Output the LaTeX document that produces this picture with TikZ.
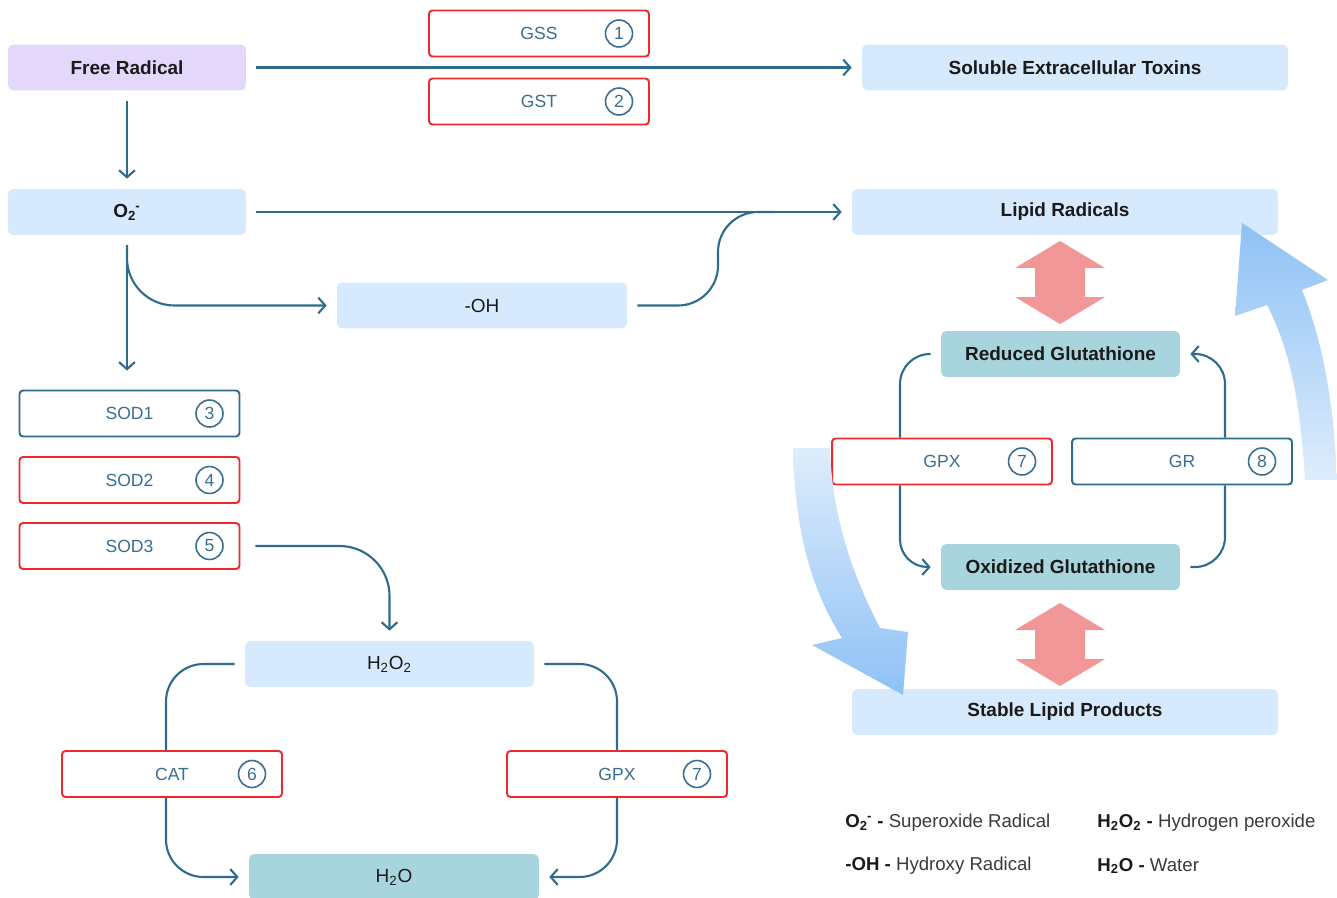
\documentclass[tikz,border=0pt]{standalone}
\usepackage{fontspec}
\setmainfont{Liberation Sans}
\usetikzlibrary{arrows.meta,positioning,calc}

\definecolor{linkblue}{RGB}{46,107,140}
\definecolor{enzred}{RGB}{240,40,44}
\definecolor{enztext}{RGB}{58,110,145}
\definecolor{paleblue}{RGB}{215,233,252}
\definecolor{lavender}{RGB}{227,216,251}
\definecolor{tealbox}{RGB}{168,212,221}
\definecolor{pinkarrow}{RGB}{242,151,151}
\definecolor{flowdark}{RGB}{143,193,245}
\definecolor{flowlight}{RGB}{222,237,252}
\definecolor{labelblack}{RGB}{26,26,26}
\definecolor{legendgray}{RGB}{58,58,58}

\newcommand{\subsup}[2]{\textsubscript{#1}\kern-0.05em\textsuperscript{#2}}

\begin{document}
\begin{tikzpicture}[x=0.02cm, y=-0.02cm]
\tikzstyle{species}=[rectangle, rounded corners=3pt, fill=paleblue, minimum height=0.92cm, inner sep=0pt, font=\fontsize{10.8}{13}\selectfont\bfseries, text=labelblack, align=center]
\tikzstyle{enzyme}=[draw=enzred, line width=1.1pt, rectangle, rounded corners=2pt, fill=white, minimum width=4.4cm, minimum height=0.92cm, inner sep=0pt, font=\fontsize{10}{12}\selectfont, text=enztext]
\tikzstyle{enzymeblue}=[enzyme, draw=linkblue]
\tikzstyle{num}=[draw=enztext, circle, line width=0.9pt, minimum size=0.54cm, inner sep=0pt, font=\fontsize{10}{12}\selectfont, text=enztext]
\tikzstyle{link}=[draw=linkblue, line width=1.2pt, -{Straight Barb[length=4pt,width=9pt]}, shorten <=0.2cm, shorten >=0.2cm]
\tikzstyle{plainlink}=[draw=linkblue, line width=1.2pt]
\tikzstyle{swap}=[fill=pinkarrow]
\tikzstyle{legend}=[anchor=west, inner sep=0pt, font=\fontsize{10.6}{12}\selectfont, text=legendgray]

\useasboundingbox (0,0) rectangle (1337,898);

\node[species, fill=lavender, minimum width=4.76cm] (fr) at (127,67.5) {Free Radical};
\node[species, minimum width=8.52cm] (toxins) at (1075,67.5) {Soluble Extracellular Toxins};
\node[species, minimum width=4.76cm] (o2) at (127,212) {O\subsup{2}{-}};
\node[species, minimum width=8.52cm] (lipid) at (1065,212) {Lipid Radicals};
\node[species, font=\fontsize{10.8}{13}\selectfont, minimum width=5.8cm] (oh) at (482,305.5) {-OH};
\node[species, font=\fontsize{10.8}{13}\selectfont, minimum width=5.78cm] (h2o2) at (389.5,664) {H\textsubscript{2}O\textsubscript{2}};
\node[species, font=\fontsize{10.8}{13}\selectfont, fill=tealbox, minimum width=5.8cm] (h2o) at (394,877) {H\textsubscript{2}O};
\node[species, fill=tealbox, minimum width=4.78cm] (red) at (1060.5,354) {Reduced Glutathione};
\node[species, fill=tealbox, minimum width=4.78cm] (ox) at (1060.5,567) {Oxidized Glutathione};
\node[species, minimum width=8.52cm] (stable) at (1065,712) {Stable Lipid Products};

\node[enzyme] (gss) at (539,33.5) {GSS};
\node[num] (gss-n) at ($(gss)+(80,0)$) {1};
\node[enzyme] (gst) at (539,101.5) {GST};
\node[num] (gst-n) at ($(gst)+(80,0)$) {2};
\node[enzymeblue] (sod1) at (129.5,413.5) {SOD1};
\node[num] (sod1-n) at ($(sod1)+(80,0)$) {3};
\node[enzyme] (sod2) at (129.5,480) {SOD2};
\node[num] (sod2-n) at ($(sod2)+(80,0)$) {4};
\node[enzyme] (sod3) at (129.5,546) {SOD3};
\node[num] (sod3-n) at ($(sod3)+(80,0)$) {5};
\node[enzyme] (cat) at (172,774) {CAT};
\node[num] (cat-n) at ($(cat)+(80,0)$) {6};
\node[enzyme] (gpxa) at (617,774) {GPX};
\node[num] (gpxa-n) at ($(gpxa)+(80,0)$) {7};
\node[enzyme] (gpxb) at (942,461.5) {GPX};
\node[num] (gpxb-n) at ($(gpxb)+(80,0)$) {7};
\node[enzymeblue] (gr) at (1182,461.5) {GR};
\node[num] (gr-n) at ($(gr)+(80,0)$) {8};

\coordinate (rise) at (718,212);
\coordinate (merge) at (775,212);

\draw[link] (fr) -- (toxins);
\draw[link] (fr) -- (o2);
\draw[link] (o2) -- (lipid);
\draw[link, shorten >=0.38cm] (o2.south) -- (o2.south |- sod1.north);
\draw[link, rounded corners=0.95cm] (o2.south) |- (oh.west);
\draw[plainlink, rounded corners=0.8cm, shorten <=0.2cm] (oh.east) -| (rise) -- (merge);
\draw[link, rounded corners=1cm, shorten <=0.3cm] (sod3.east) -| (h2o2.north);

\draw[plainlink, rounded corners=0.75cm, shorten <=0.2cm] (h2o2.west) -| ([xshift=-0.12cm]cat.north);
\draw[link, rounded corners=0.75cm, shorten <=0pt] ([xshift=-0.12cm]cat.south) |- (h2o.west);
\draw[plainlink, rounded corners=0.75cm, shorten <=0.2cm] (h2o2.east) -| (gpxa.north);
\draw[link, rounded corners=0.75cm, shorten <=0pt] (gpxa.south) |- (h2o.east);

\draw[plainlink, rounded corners=0.6cm, shorten <=0.2cm] (red.west) -| ([xshift=-0.84cm]gpxb.north);
\draw[link, rounded corners=0.55cm, shorten <=0pt] ([xshift=-0.84cm]gpxb.south) |- (ox.west);
\draw[plainlink, rounded corners=0.6cm, shorten <=0.2cm] (ox.east) -| ([xshift=0.86cm]gr.south);
\draw[link, rounded corners=0.6cm, shorten <=0pt] ([xshift=0.86cm]gr.north) |- (red.east);

\fill[swap] (1060,241) -- (1105,268) -- (1085,268) -- (1085,297) -- (1105,297) -- (1060,324) -- (1015,297) -- (1035,297) -- (1035,268) -- (1015,268) -- cycle;
\fill[swap] (1060,603) -- (1105,630) -- (1085,630) -- (1085,659) -- (1105,659) -- (1060,686) -- (1015,659) -- (1035,659) -- (1035,630) -- (1015,630) -- cycle;

\shade[top color=flowlight, bottom color=flowdark] (793,448) .. controls (795,540) and (815,595) .. (842,638) -- (812,645) -- (903,695) -- (908,632) -- (880,628) .. controls (855,580) and (832,520) .. (830,448) -- cycle;
\shade[top color=flowdark, bottom color=flowlight] (1305,480) .. controls (1300,400) and (1290,350) .. (1267,305) -- (1235,316) -- (1242,223) -- (1328,280) -- (1302,290) .. controls (1322,340) and (1334,400) .. (1337,480) -- cycle;

\node[legend] (leg-o2) at (845,823) {\textbf{\color{labelblack}O\subsup{2}{-} -} Superoxide Radical};
\node[legend] (leg-oh) at (845,866) {\textbf{\color{labelblack}-OH -} Hydroxy Radical};
\node[legend] (leg-h2o2) at (1097,823) {\textbf{\color{labelblack}H\textsubscript{2}O\textsubscript{2} -} Hydrogen peroxide};
\node[legend] (leg-h2o) at (1097,866) {\textbf{\color{labelblack}H\textsubscript{2}O -} Water};

\end{tikzpicture}
\end{document}
